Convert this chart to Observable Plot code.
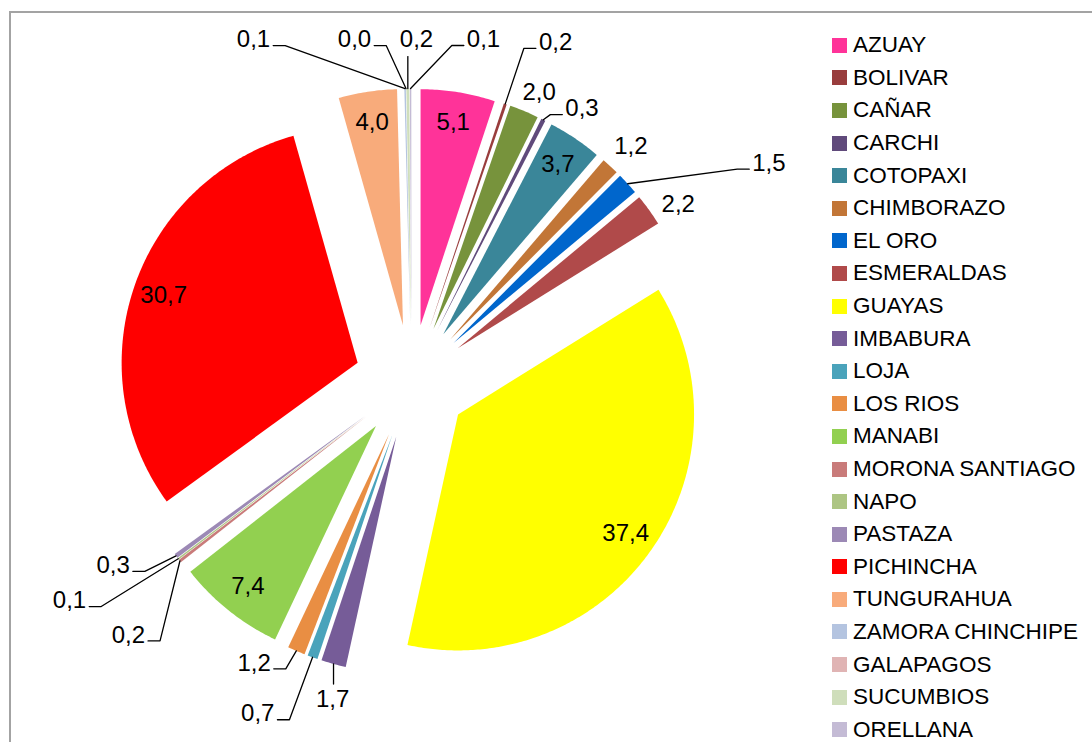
<!DOCTYPE html>
<html><head><meta charset="utf-8">
<script src="https://cdn.jsdelivr.net/npm/d3@7"></script>
<script src="https://cdn.jsdelivr.net/npm/@observablehq/plot@0.6"></script>
<style>
html,body{margin:0;padding:0;overflow:hidden;background:#fff;width:1092px;height:742px}
#wrap{position:relative;width:1092px;height:742px;overflow:hidden;font-family:"Liberation Sans",Arial,sans-serif}
#frame{position:absolute;left:9px;top:11px;width:2000px;height:2000px;border-left:2px solid #a3a3a3;border-top:2px solid #a3a3a3}
#chart{position:absolute;left:0;top:0}
#legend{position:absolute;left:832px;top:29px}
.row{display:flex;align-items:center;height:32.6px;font-size:22.5px;color:#000;white-space:nowrap}
.sw{width:15px;height:15px;margin-right:6px;flex:none}
</style></head><body>
<div id="wrap"><div id="frame"></div><div id="chart"></div><div id="legend"></div></div>
<script>
// ---- data ----
const provinces = ["AZUAY","BOLIVAR","CAÑAR","CARCHI","COTOPAXI","CHIMBORAZO","EL ORO","ESMERALDAS","GUAYAS","IMBABURA","LOJA","LOS RIOS","MANABI","MORONA SANTIAGO","NAPO","PASTAZA","PICHINCHA","TUNGURAHUA","ZAMORA CHINCHIPE","GALAPAGOS","SUCUMBIOS","ORELLANA"];
const shares = [5.1,0.2,2.0,0.3,3.7,1.2,1.5,2.2,37.4,1.7,0.7,1.2,7.4,0.2,0.1,0.3,30.7,4.0,0.1,0.0,0.2,0.1];
const sliceColors = ["#FF3399","#993D3D","#77933C","#604A7B","#3A8699","#C27637","#0066CC","#B04A4A","#FFFF00","#765C98","#4AA3BB","#E98E43","#92D050","#C97B7A","#ADC583","#9C89B5","#FF0000","#F8AB7B","#B4C4E0","#E0B4B4","#CFDEBB","#C4BBD5"];

// ---- layout ----
const W = 1092, H = 742, CX = 411, CY = 381, R = 236, EXPLODE = 57, IN_R = 0.87, OUT_GAP = 26;
const labelMode = ["in","leader","out","leader","in","out","leader","out","in","leader","leader","leader","in","leader","leader","leader","in","in","leader","leader","leader","leader"];
const labelNudge = [[0,0],[42,-37],[5,5],[27,12],[0,0],[3,-1],[122,-3],[8,9],[0,0],[6,10],[-46,32],[-32,-12],[0,0],[-31,58],[-88,26],[-42,-6],[0,0],[0,0],[-151,-23],[-51,-23],[9,-23],[73,-23]];
const FS = 24;

const data = provinces.map((name, i) => ({name, share: shares[i], color: sliceColors[i], mode: labelMode[i], nudge: labelNudge[i]}));
const arcs = d3.pie().sort(null).value(d => d.share)(data);

const pt = (a, r) => [r * Math.sin(a), r * Math.cos(a)];
const slicePts = [], leaderPts = [], labels = [];
const fmt = v => v.toFixed(1).replace(".", ",");
const textHalf = s => [...s].reduce((w, c) => w + (c === "," ? 0.278 : 0.556), 0) * FS / 2;

arcs.forEach(a => {
  const d = a.data;
  const mid = (a.startAngle + a.endAngle) / 2;
  const [ax, ay] = pt(mid, EXPLODE);
  if (a.endAngle > a.startAngle) {
    const n = Math.max(2, Math.ceil((a.endAngle - a.startAngle) / 0.01));
    slicePts.push({name: d.name, x: ax, y: ay});
    for (let k = 0; k <= n; k++) {
      const t = a.startAngle + (a.endAngle - a.startAngle) * k / n;
      const [px, py] = pt(t, R);
      slicePts.push({name: d.name, x: ax + px, y: ay + py});
    }
    slicePts.push({name: d.name, x: ax, y: ay});
  }
  const text = fmt(d.share);
  if (d.mode === "in") {
    const [lx, ly] = pt(mid, R * IN_R);
    labels.push({text, x: ax + lx, y: ay + ly});
  } else {
    const [lx, ly] = pt(mid, R + OUT_GAP);
    const tx = ax + lx + d.nudge[0], ty = ay + ly - d.nudge[1];
    labels.push({text, x: tx, y: ty});
    if (d.mode === "leader") {
      const [tpx, tpy] = pt(mid, R);
      const tipx = ax + tpx, tipy = ay + tpy;
      const hw = textHalf(text);
      if (Math.abs(tx - tipx) <= hw) {
        const ey = ty > tipy ? ty - 17 : ty + 15;
        leaderPts.push({name: d.name, x: tipx, y: tipy}, {name: d.name, x: tipx, y: ey});
      } else {
        const side = Math.sign(tipx - tx);
        const ex = tx + side * (hw + 3), ey = ty - 6;
        leaderPts.push({name: d.name, x: tipx, y: tipy}, {name: d.name, x: ex + side * 12, y: ey}, {name: d.name, x: ex, y: ey});
      }
    }
  }
});

const chart = Plot.plot({
  width: W, height: H, margin: 0,
  style: {fontFamily: "'Liberation Sans', Arial, sans-serif", background: "transparent", overflow: "visible"},
  x: {domain: [-CX, W - CX], axis: null},
  y: {domain: [-(H - CY), CY], axis: null},
  color: {domain: provinces, range: sliceColors},
  marks: [
    Plot.line(slicePts, {x: "x", y: "y", z: "name", fill: "name", stroke: "none", curve: "linear"}),
    Plot.line(leaderPts, {x: "x", y: "y", z: "name", stroke: "black", strokeWidth: 1.3, curve: "linear"}),
    Plot.text(labels, {x: "x", y: "y", text: "text", fontSize: FS, fill: "black"})
  ]
});
document.getElementById("chart").appendChild(chart);

const leg = document.getElementById("legend");
data.forEach(d => {
  const row = document.createElement("div");
  row.className = "row";
  const sw = document.createElement("div");
  sw.className = "sw";
  sw.style.background = d.color;
  const lab = document.createElement("span");
  lab.textContent = d.name;
  row.appendChild(sw); row.appendChild(lab);
  leg.appendChild(row);
});
</script>
</body></html>
